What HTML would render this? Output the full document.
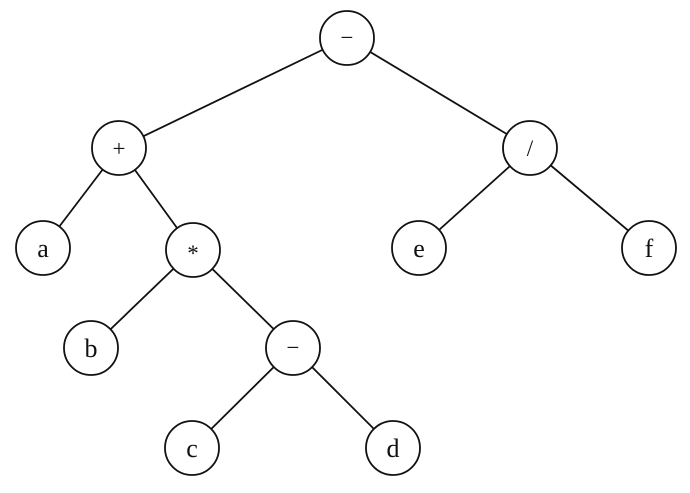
<!DOCTYPE html>
<html><head><meta charset="utf-8"><style>html,body{margin:0;padding:0;background:#fff}</style></head>
<body>
<svg width="690" height="488" viewBox="0 0 690 488" xmlns="http://www.w3.org/2000/svg">
<g stroke="#111" stroke-width="1.8" fill="none">
<line x1="347" y1="38" x2="119" y2="148"/>
<line x1="347" y1="38" x2="530" y2="148"/>
<line x1="119" y1="148" x2="43" y2="248"/>
<line x1="119" y1="148" x2="193" y2="250"/>
<line x1="530" y1="148" x2="419" y2="248"/>
<line x1="530" y1="148" x2="649" y2="248"/>
<line x1="193" y1="250" x2="91" y2="348"/>
<line x1="193" y1="250" x2="293" y2="348"/>
<line x1="293" y1="348" x2="192" y2="448"/>
<line x1="293" y1="348" x2="393" y2="448"/>
</g>
<g stroke="#111" stroke-width="1.8" fill="#fff">
<circle cx="347" cy="38" r="27"/>
<circle cx="119" cy="148" r="27"/>
<circle cx="530" cy="148" r="27"/>
<circle cx="43" cy="248" r="27"/>
<circle cx="193" cy="250" r="27"/>
<circle cx="419" cy="248" r="27"/>
<circle cx="649" cy="248" r="27"/>
<circle cx="91" cy="348" r="27"/>
<circle cx="293" cy="348" r="27"/>
<circle cx="192" cy="448" r="27"/>
<circle cx="393" cy="448" r="27"/>
</g>
<g font-family="Liberation Serif, serif" font-size="26" fill="#111" text-anchor="middle">
<text x="347" y="45" font-size="23">−</text>
<text x="119" y="156" font-size="23">+</text>
<text x="530" y="156" font-size="23">/</text>
<text x="43" y="257">a</text>
<text x="193" y="261" font-size="23">*</text>
<text x="419" y="257">e</text>
<text x="649" y="257">f</text>
<text x="91" y="357">b</text>
<text x="293" y="355" font-size="23">−</text>
<text x="192" y="457">c</text>
<text x="393" y="457">d</text>
</g>
</svg>
</body></html>
